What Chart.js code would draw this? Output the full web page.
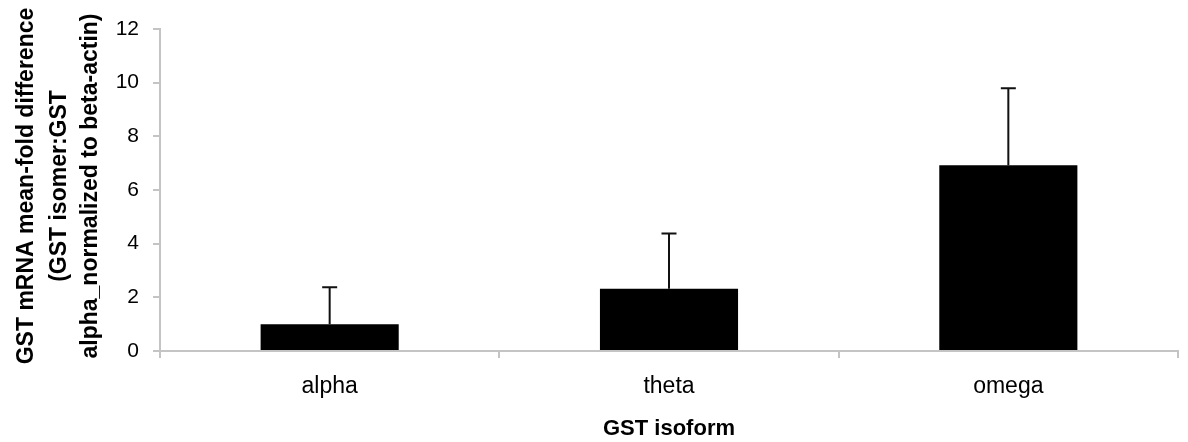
<!DOCTYPE html>
<html>
<head>
<meta charset="utf-8">
<script src="https://cdn.jsdelivr.net/npm/chart.js@4/dist/chart.umd.min.js"></script>
<style>
  html, body { margin: 0; padding: 0; background: #fff; }
  #wrap { width: 1188px; height: 442px; }
</style>
</head>
<body>
<div id="wrap"><canvas id="c" width="1188" height="442"></canvas></div>
<script>
// GST isoform expression, fold difference relative to GST alpha
const isoforms = ['alpha', 'theta', 'omega'];
const meanFold = [1.0, 2.32, 6.92];
const errUpper = [1.38, 2.06, 2.87];
const yTicks = [0, 2, 4, 6, 8, 10, 12];
const yTitleLines = ['GST mRNA mean-fold difference', '(GST isomer:GST', 'alpha_normalized to beta-actin)'];
const xTitle = 'GST isoform';

const FONT = '"Liberation Sans", Arial, Helvetica, sans-serif';
const AXIS = '#c4c4c4';

// Upward error bars with caps, positioned from the scales
const errorBars = {
  id: 'errorBars',
  afterDatasetsDraw(chart) {
    const ctx = chart.ctx;
    const meta = chart.getDatasetMeta(0);
    const y = chart.scales.y;
    ctx.save();
    ctx.strokeStyle = '#111';
    ctx.lineWidth = 2;
    meta.data.forEach((bar, i) => {
      const top = y.getPixelForValue(meanFold[i] + errUpper[i]);
      const base = y.getPixelForValue(meanFold[i]);
      ctx.beginPath();
      ctx.moveTo(bar.x, base);
      ctx.lineTo(bar.x, top);
      ctx.moveTo(bar.x - 7.5, top);
      ctx.lineTo(bar.x + 7.5, top);
      ctx.stroke();
    });
    ctx.restore();
  }
};

// Three-line rotated title for the value axis
const yAxisTitle = {
  id: 'yAxisTitle',
  afterDraw(chart) {
    const ctx = chart.ctx;
    const cy = 186;
    const xs = [27, 60, 91];
    ctx.save();
    ctx.fillStyle = '#000';
    ctx.font = 'bold 23px ' + FONT;
    ctx.textAlign = 'center';
    ctx.textBaseline = 'middle';
    yTitleLines.forEach((line, i) => {
      ctx.save();
      ctx.translate(xs[i], cy);
      ctx.rotate(-Math.PI / 2);
      ctx.fillText(line, 0, 0);
      ctx.restore();
    });
    ctx.restore();
  }
};

new Chart(document.getElementById('c'), {
  type: 'bar',
  data: {
    labels: isoforms,
    datasets: [{
      data: meanFold,
      backgroundColor: '#000',
      borderWidth: 0,
      barPercentage: 0.407,
      categoryPercentage: 1.0
    }]
  },
  options: {
    responsive: false,
    animation: false,
    devicePixelRatio: 1,
    layout: { padding: { left: 0, right: 10, top: 29, bottom: 0 } },
    plugins: { legend: { display: false }, tooltip: { enabled: false } },
    scales: {
      x: {
        offset: true,
        grid: {
          offset: true,
          drawOnChartArea: false,
          drawTicks: true,
          tickLength: 7,
          color: AXIS,
          lineWidth: 2
        },
        border: { color: AXIS, width: 2 },
        ticks: {
          color: '#000',
          font: { family: FONT, size: 23 },
          padding: 15
        },
        title: {
          display: true,
          text: xTitle,
          color: '#000',
          font: { family: FONT, size: 22, weight: 'bold' },
          padding: { top: 0, bottom: 0 }
        },
        afterFit(scale) { scale.height = 91; }
      },
      y: {
        min: 0,
        max: 12,
        afterBuildTicks(scale) { scale.ticks = yTicks.map(v => ({ value: v })); },
        grid: {
          drawOnChartArea: false,
          drawTicks: true,
          tickLength: 7,
          color: AXIS,
          lineWidth: 2
        },
        border: { color: AXIS, width: 2 },
        ticks: {
          color: '#000',
          font: { family: FONT, size: 21 },
          padding: 14
        },
        afterFit(scale) { scale.width = 160; }
      }
    }
  },
  plugins: [errorBars, yAxisTitle]
});
</script>
</body>
</html>
